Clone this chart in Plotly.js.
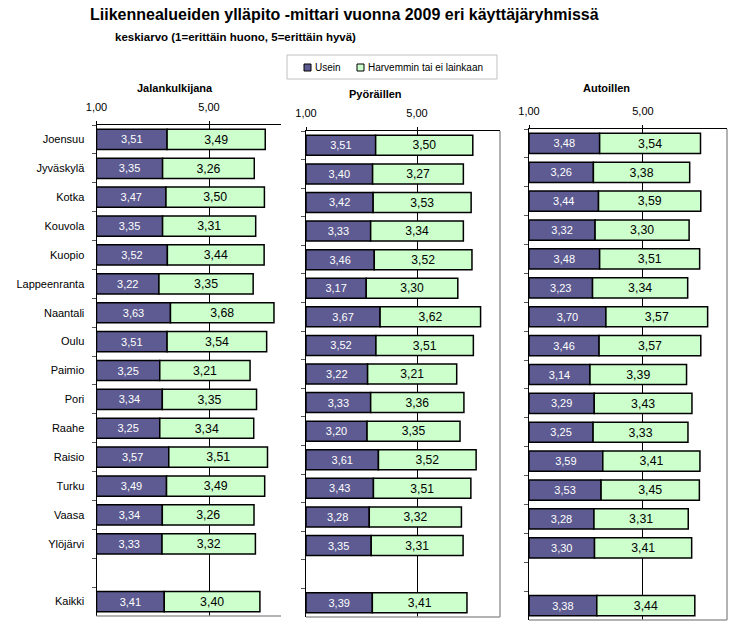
<!DOCTYPE html>
<html>
<head>
<meta charset="utf-8">
<script src="https://cdn.plot.ly/plotly-3.0.1.min.js"></script>
<style>html,body{margin:0;padding:0;background:#fff;}#chart{width:742px;height:637px;}</style>
</head>
<body>
<div id="chart"></div>
<script>
// ---- data ----
const cities = ["Joensuu","Jyväskylä","Kotka","Kouvola","Kuopio","Lappeenranta","Naantali","Oulu","Paimio","Pori","Raahe","Raisio","Turku","Vaasa","Ylöjärvi","Kaikki"];
const categoryOrder = ["Joensuu","Jyväskylä","Kotka","Kouvola","Kuopio","Lappeenranta","Naantali","Oulu","Paimio","Pori","Raahe","Raisio","Turku","Vaasa","Ylöjärvi"," ","Kaikki"];
const panelTitles = ["Jalankulkijana","Pyöräillen","Autoillen"];
const seriesNames = ["Usein","Harvemmin tai ei lainkaan"];
const tickVals = [1, 5];
const tickText = ["1,00", "5,00"];

const jalanUsein = [3.51,3.35,3.47,3.35,3.52,3.22,3.63,3.51,3.25,3.34,3.25,3.57,3.49,3.34,3.33,3.41];
const jalanHarv  = [3.49,3.26,3.50,3.31,3.44,3.35,3.68,3.54,3.21,3.35,3.34,3.51,3.49,3.26,3.32,3.40];
const pyoraUsein = [3.51,3.40,3.42,3.33,3.46,3.17,3.67,3.52,3.22,3.33,3.20,3.61,3.43,3.28,3.35,3.39];
const pyoraHarv  = [3.50,3.27,3.53,3.34,3.52,3.30,3.62,3.51,3.21,3.36,3.35,3.52,3.51,3.32,3.31,3.41];
const autoUsein  = [3.48,3.26,3.44,3.32,3.48,3.23,3.70,3.46,3.14,3.29,3.25,3.59,3.53,3.28,3.30,3.38];
const autoHarv   = [3.54,3.38,3.59,3.30,3.51,3.34,3.57,3.57,3.39,3.43,3.33,3.41,3.45,3.31,3.41,3.44];

// ---- layout helpers ----
const W = 742, H = 637;
const FONT = "Liberation Sans, Arial, sans-serif";
const PURPLE = "#5d5b91", GREEN = "#ccffcc";
const fx = px => px / W;
const fy = py => 1 - py / H;
const fmt = v => v.toFixed(2).replace(".", ",");

const panels = [
  {u: jalanUsein, h: jalanHarv, x0: 96.5, x1: 281, y0: 125, y1: 616, max: 7.56, labels: true, rightBorder: false, titleX: 175, titleY: 88},
  {u: pyoraUsein, h: pyoraHarv, x0: 306, x1: 500, y0: 131, y1: 617, max: 7.99, labels: false, rightBorder: true, titleX: 376, titleY: 94},
  {u: autoUsein,  h: autoHarv,  x0: 529, x1: 727, y0: 129, y1: 620, max: 7.95, labels: false, rightBorder: true, titleX: 606, titleY: 88}
];

const traces = [];
const layout = {
  width: W, height: H,
  margin: {l: 0, r: 0, t: 0, b: 0},
  paper_bgcolor: "#fff", plot_bgcolor: "#fff",
  barmode: "overlay", bargap: 0.3,
  showlegend: false,
  font: {family: FONT, size: 11, color: "#000"},
  shapes: [], annotations: []
};

panels.forEach((p, i) => {
  const n = i === 0 ? "" : String(i + 1);
  const xa = "x" + n, ya = "y" + n;
  traces.push({
    type: "bar", orientation: "h", xaxis: xa, yaxis: ya,
    name: seriesNames[0],
    y: cities, base: 1, x: p.u.map(v => v - 1),
    text: p.u.map(fmt), textposition: "inside", insidetextanchor: "middle",
    textangle: 0, textfont: {color: "#fff", size: 11, family: FONT},
    marker: {color: PURPLE, line: {color: "#000", width: 1.5}},
    hoverinfo: "skip", cliponaxis: true
  });
  traces.push({
    type: "bar", orientation: "h", xaxis: xa, yaxis: ya,
    name: seriesNames[1],
    y: cities, base: p.u, x: p.h,
    text: p.h.map(fmt), textposition: "inside", insidetextanchor: "middle",
    textangle: 0, textfont: {color: "#000", size: 13, family: FONT},
    marker: {color: GREEN, line: {color: "#000", width: 1.5}},
    hoverinfo: "skip", cliponaxis: true
  });
  layout["xaxis" + n] = {
    domain: [fx(p.x0), fx(p.x1)], anchor: ya, side: "top",
    range: [1, p.max], tickvals: tickVals, ticktext: tickText,
    showline: true, linecolor: "#000", linewidth: 1,
    ticks: "outside", ticklen: 3, tickcolor: "#000",
    showgrid: true, gridcolor: "#000", gridwidth: 1, zeroline: false,
    tickfont: {size: 11, family: FONT, color: "#000"}, ticklabelstandoff: 6,
    fixedrange: true
  };
  layout["yaxis" + n] = {
    domain: [fy(p.y1), fy(p.y0)], anchor: xa,
    type: "category", categoryorder: "array", categoryarray: categoryOrder,
    range: [categoryOrder.length - 0.5, -0.5],
    showline: true, linecolor: "#000", linewidth: 1,
    ticks: "outside", ticklen: 4, tickcolor: "#555", tickson: "boundaries",
    showticklabels: p.labels, tickfont: {size: 11, family: FONT, color: "#000"},
    ticklabelstandoff: 9, showgrid: false, zeroline: false, fixedrange: true
  };
  // plot area border (bottom / right)
  layout.shapes.push({type: "line", xref: "paper", yref: "paper",
    x0: fx(p.x0), x1: fx(p.x1), y0: fy(p.y1), y1: fy(p.y1), line: {color: "#9a9a9a", width: 1.5}});
  if (p.rightBorder) {
    layout.shapes.push({type: "line", xref: "paper", yref: "paper",
      x0: fx(p.x1), x1: fx(p.x1), y0: fy(p.y1), y1: fy(p.y0), line: {color: "#9a9a9a", width: 1.5}});
  }
  layout.annotations.push({xref: "paper", yref: "paper", x: fx(p.titleX), y: fy(p.titleY),
    xanchor: "center", yanchor: "middle", showarrow: false,
    text: "<b>" + panelTitles[i] + "</b>", font: {size: 11, family: FONT, color: "#000"}});
});

// titles
layout.annotations.push({xref: "paper", yref: "paper", x: fx(88), y: fy(14), xanchor: "left", yanchor: "middle",
  showarrow: false, text: "<b>Liikennealueiden ylläpito -mittari vuonna 2009 eri käyttäjäryhmissä</b>",
  font: {size: 16, family: FONT, color: "#000"}});
layout.annotations.push({xref: "paper", yref: "paper", x: fx(113), y: fy(37), xanchor: "left", yanchor: "middle",
  showarrow: false, text: "<b>keskiarvo (1=erittäin huono, 5=erittäin hyvä)</b>",
  font: {size: 11.5, family: FONT, color: "#000"}});

// manual legend
layout.shapes.push({type: "rect", xref: "paper", yref: "paper", x0: fx(287), x1: fx(497), y0: fy(79), y1: fy(55),
  line: {color: "#c0c0c0", width: 1}, fillcolor: "#fff"});
layout.shapes.push({type: "rect", xref: "paper", yref: "paper", x0: fx(304), x1: fx(311), y0: fy(71), y1: fy(64),
  line: {color: "#000", width: 1}, fillcolor: PURPLE});
layout.shapes.push({type: "rect", xref: "paper", yref: "paper", x0: fx(357), x1: fx(364), y0: fy(71), y1: fy(64),
  line: {color: "#000", width: 1}, fillcolor: GREEN});
layout.annotations.push({xref: "paper", yref: "paper", x: fx(313), y: fy(67.5), xanchor: "left", yanchor: "middle",
  showarrow: false, text: seriesNames[0], font: {size: 10, family: FONT, color: "#000"}});
layout.annotations.push({xref: "paper", yref: "paper", x: fx(366), y: fy(67.5), xanchor: "left", yanchor: "middle",
  showarrow: false, text: seriesNames[1], font: {size: 10, family: FONT, color: "#000"}});

Plotly.newPlot("chart", traces, layout, {staticPlot: true, displayModeBar: false});
</script>
</body>
</html>
